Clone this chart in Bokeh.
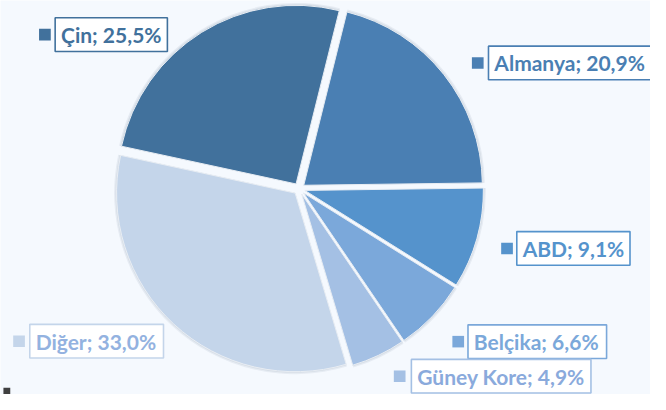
import math
from bokeh.plotting import figure
from bokeh.models import Range1d, ColumnDataSource
from bokeh.core.properties import value
from bokeh.embed import file_html
from bokeh.resources import INLINE

# ---- data ----
categories = ["Almanya", "ABD", "Belçika", "Güney Kore", "Diğer", "Çin"]
shares = [20.9, 9.1, 6.6, 4.9, 33.0, 25.5]
label_texts = ["Almanya; 20,9%", "ABD; 9,1%", "Belçika; 6,6%", "Güney Kore; 4,9%", "Diğer; 33,0%", "Çin; 25,5%"]

# ---- styles / layout ----
slice_colors = ["#4a7fb3", "#5593cc", "#7ba8da", "#a4c0e4", "#c4d5ea", "#41719c"]
text_colors = ["#4a7fb3", "#5593cc", "#7ba8da", "#8aaadc", "#93b2e0", "#41719c"]
box_colors = ["#4a7fb3", "#5593cc", "#7ba8da", "#a4c0e4", "#c4d5ea", "#41719c"]
BG = "#f5f9fe"
W, H = 666, 410
cx, cy = 306, H - 196
R = 183
explode = 6
start_deg = 76.0
# label boxes in reference pixels: (left, right, center_y), marker center x
box_left = [500, 529, 479, 421, 30, 56]
box_right = [672, 645, 621, 605, 167, 171]
box_cy = [65, 258, 355, 391, 354.5, 35.5]
marker_x = [489, 519, 469, 409, 19, 45.5]

p = figure(width=650, height=394, output_backend="svg", toolbar_location=None,
           x_range=Range1d(0, W), y_range=Range1d(0, H),
           background_fill_color=BG, border_fill_color=BG, min_border=0)
p.axis.visible = False
p.grid.visible = False
p.outline_line_color = None

xs, ys, sa, ea = [], [], [], []
a = start_deg
for s in shares:
    sweep = s * 3.6
    a_end = a - sweep
    mid = math.radians((a + a_end) / 2)
    xs.append(cx + explode * math.cos(mid))
    ys.append(cy + explode * math.sin(mid))
    sa.append(math.radians(a_end))
    ea.append(math.radians(a))
    a = a_end

src = ColumnDataSource(dict(x=xs, y=ys, sa=sa, ea=ea, c=slice_colors, cat=categories))
# soft shadow
p.wedge(x="x", y="y", radius=R + 2.5, start_angle="sa", end_angle="ea", source=src,
        fill_color="#9aa8b8", fill_alpha=0.16, line_color=None)
p.wedge(x="x", y="y", radius=R + 1.2, start_angle="sa", end_angle="ea", source=src,
        fill_color="#8a98a8", fill_alpha=0.16, line_color=None)
p.wedge(x="x", y="y", radius=R, start_angle="sa", end_angle="ea", source=src,
        fill_color="c", line_color="#e8edf3", line_width=1)

# labels
bl = ColumnDataSource(dict(
    x=[(l + r) / 2 for l, r in zip(box_left, box_right)],
    w=[r - l for l, r in zip(box_left, box_right)],
    y=[H - c for c in box_cy],
    bc=box_colors,
    tx=[l + 6 for l in box_left],
    t=label_texts, tc=text_colors,
    mx=marker_x, mc=slice_colors,
))
p.rect(x="x", y="y", width="w", height=35, source=bl, fill_color="white",
       line_color="bc", line_width=1.6)
p.rect(x="mx", y="y", width=12, height=12, source=bl, fill_color="mc", line_color=None)
p.text(x="tx", y="y", text="t", source=bl, text_color="tc",
       text_font=value("Lato"), text_font_style="bold", text_font_size="21px",
       text_baseline="middle", text_align="left")

# small dark marker at the bottom-left corner seen in the reference
p.rect(x=[6.5], y=[3.5], width=7, height=7, fill_color="#404040", line_color=None)

open("out.html", "w").write(file_html(p, INLINE))
